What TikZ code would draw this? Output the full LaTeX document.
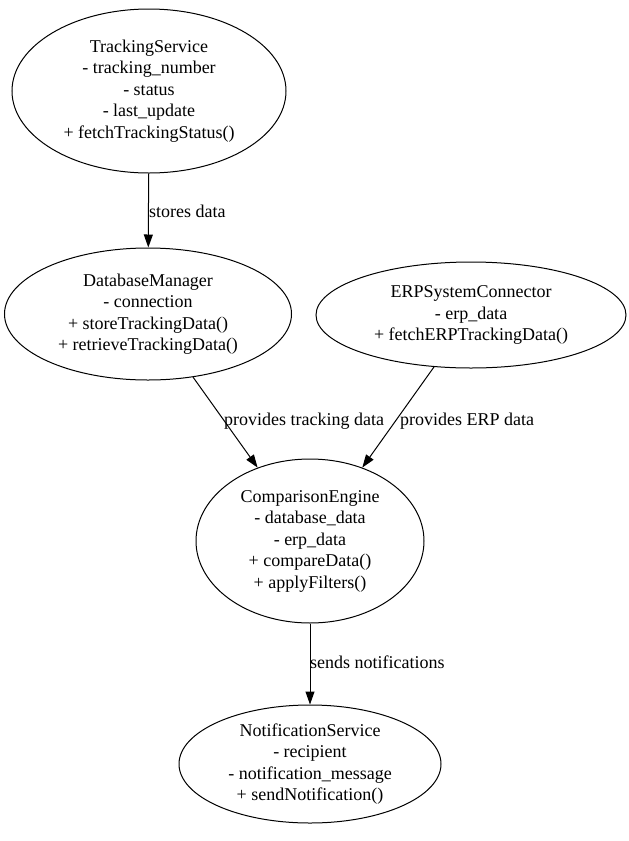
\documentclass[tikz,border=0pt]{standalone}
\usepackage{fontspec}
\setmainfont{Liberation Serif}
\usetikzlibrary{arrows.meta, shapes.geometric, positioning}

\tikzset{
  classnode/.style={ellipse, draw, line width=1pt, align=center, inner sep=0pt, font=\fontsize{18}{21.5}\selectfont},
  relarrow/.style={-{Triangle[length=13pt,width=9pt]}, line width=1pt},
  rellabel/.style={anchor=west, inner sep=0pt, font=\fontsize{18}{21}\selectfont}
}

\begin{document}
\begin{tikzpicture}[x=1pt, y=-1pt]
			\useasboundingbox (0, 0) rectangle (629, 841);
			\node (tracking)[classnode, minimum width=274pt, minimum height=164pt] at (149, 91)
				{TrackingService\\- tracking\_number\\- status\\- last\_update\\+ fetchTrackingStatus()};
			\node (database)[classnode, minimum width=287pt, minimum height=132pt] at (148, 314)
				{DatabaseManager\\- connection\\+ storeTrackingData()\\+ retrieveTrackingData()};
			\node (erp)[classnode, minimum width=310pt, minimum height=106pt] at (471, 315)
				{ERPSystemConnector\\- erp\_data\\+ fetchERPTrackingData()};
			\node (compare)[classnode, minimum width=228pt, minimum height=164pt] at (310, 541)
				{ComparisonEngine\\- database\_data\\- erp\_data\\+ compareData()\\+ applyFilters()};
			\node (notify)[classnode, minimum width=262pt, minimum height=118pt] at (310, 764)
				{NotificationService\\- recipient\\- notification\_message\\+ sendNotification()};
			\draw[relarrow] (tracking) -- (database);
			\node (l1)[rellabel] at (149, 211) {stores data};
			\draw[relarrow] (database) -- (compare);
			\node (l2)[rellabel] at (224, 421) {provides tracking data};
			\draw[relarrow] (erp) -- (compare);
			\node (l3)[rellabel] at (400, 421) {provides ERP data};
			\draw[relarrow] (compare) -- (notify);
			\node (l4)[rellabel] at (310, 662) {sends notifications};
		\end{tikzpicture}
\end{document}
